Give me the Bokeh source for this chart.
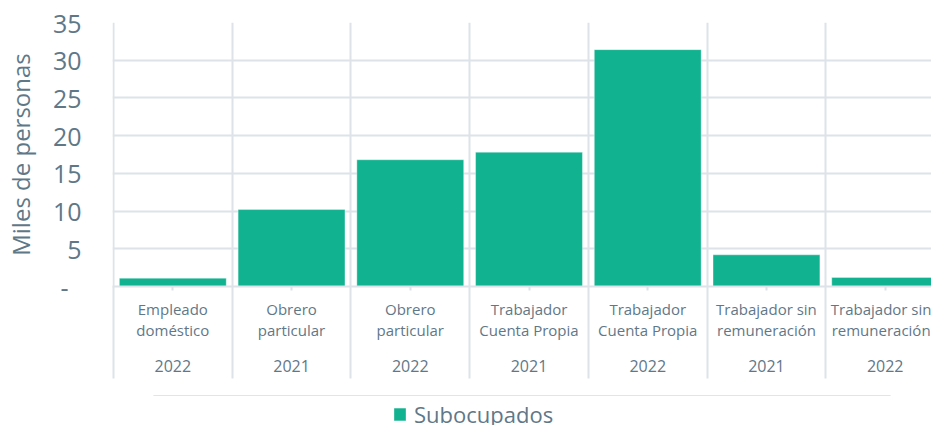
from bokeh.plotting import figure
from bokeh.layouts import column
from bokeh.models import Range1d, FixedTicker, LinearAxis, Legend, LegendItem, Grid, ColumnDataSource
from bokeh.core.properties import value
from bokeh.embed import file_html
from bokeh.resources import INLINE

categories = ["Empleado\ndoméstico", "Obrero\nparticular", "Obrero\nparticular",
              "Trabajador\nCuenta Propia", "Trabajador\nCuenta Propia",
              "Trabajador sin\nremuneración", "Trabajador sin\nremuneración"]
years = ["2022", "2021", "2022", "2021", "2022", "2021", "2022"]
subocupados = [1.1, 10.2, 16.8, 17.8, 31.4, 4.2, 1.2]
y_ticks = [0, 5, 10, 15, 20, 25, 30, 35]
series_name = "Subocupados"
y_title = "Miles de personas"

TEXT = "#5f7888"
GRID = "#dde3e8"
BAR = "#11b28f"
FONT = "Open Sans"

n = len(categories)
centers = [i + 0.5 for i in range(n)]
bounds = list(range(n + 1))

p = figure(width=931, height=395, output_backend="svg", toolbar_location=None,
           x_range=Range1d(-0.008, 6.89), y_range=Range1d(0, 35),
           x_axis_type=None, y_axis_type=None)
p.min_border_left = 112
p.min_border_top = 22
p.min_border_right = 0
p.min_border_bottom = 109
p.outline_line_color = None
p.background_fill_color = "white"

p.add_layout(Grid(dimension=0, ticker=FixedTicker(ticks=bounds), grid_line_color=GRID, grid_line_width=2))
p.add_layout(Grid(dimension=1, ticker=FixedTicker(ticks=y_ticks), grid_line_color=GRID, grid_line_width=2))

bar_style = dict(fill_color=BAR, line_color="#ffffff", line_alpha=0.35, line_width=1)
src = ColumnDataSource(dict(x=centers, top=subocupados))
p.vbar(x="x", top="top", width=0.9, source=src, **bar_style)

yaxis = LinearAxis(ticker=FixedTicker(ticks=y_ticks),
                   major_label_overrides={0: "-\u00a0\u00a0"},
                   axis_label=y_title,
                   axis_line_color=None, major_tick_line_color=None, minor_tick_line_color=None,
                   major_tick_out=0, major_tick_in=0, major_label_standoff=31,
                   axis_label_standoff=13,
                   major_label_text_font=FONT, major_label_text_font_size="25px",
                   major_label_text_color=TEXT,
                   axis_label_text_font=FONT, axis_label_text_font_size="24px",
                   axis_label_text_font_style="normal", axis_label_text_color=TEXT)
p.add_layout(yaxis, "left")

xaxis = LinearAxis(ticker=FixedTicker(ticks=centers),
                   major_label_overrides={c: lab for c, lab in zip(centers, categories)},
                   axis_line_color=GRID, axis_line_width=2,
                   major_tick_line_color=GRID, major_tick_line_width=2,
                   major_tick_out=4, major_tick_in=0,
                   minor_tick_line_color=None,
                   major_label_standoff=8,
                   major_label_text_font=FONT, major_label_text_font_size="15px",
                   major_label_text_color=TEXT, major_label_text_line_height=1.07)
p.add_layout(xaxis, "below")

xaxis2 = LinearAxis(ticker=FixedTicker(ticks=centers),
                    major_label_overrides={c: y for c, y in zip(centers, years)},
                    axis_line_color=None, major_tick_line_color=None, minor_tick_line_color=None,
                    major_tick_out=0, major_tick_in=0, major_label_standoff=17,
                    major_label_text_font=FONT, major_label_text_font_size="16px",
                    major_label_text_color=TEXT)
p.add_layout(xaxis2, "below")

sep_axis = LinearAxis(ticker=FixedTicker(ticks=bounds),
                      major_label_overrides={b: "" for b in bounds},
                      axis_line_color=None, minor_tick_line_color=None,
                      major_tick_line_color=GRID, major_tick_line_width=2,
                      major_tick_out=4, major_tick_in=88, major_label_standoff=5,
                      major_label_text_font_size="1px")
p.add_layout(sep_axis, "below")

# legend strip
p2 = figure(width=931, height=30, output_backend="svg", toolbar_location=None,
            x_range=Range1d(0, 1), y_range=Range1d(-2, -1),
            x_axis_type=None, y_axis_type=None)
p2.min_border_left = 0
p2.min_border_right = 0
p2.min_border_top = 0
p2.min_border_bottom = 0
p2.outline_line_color = None
p2.xgrid.visible = False
p2.ygrid.visible = False
r2 = p2.vbar(x="x", top="top", width=0.9, source=src, **bar_style)

legend = Legend(items=[LegendItem(label=value(series_name), renderers=[r2])],
                location=(280, -4), orientation="horizontal",
                border_line_color=None, background_fill_alpha=0,
                glyph_width=15, glyph_height=16, label_standoff=7,
                label_text_font=FONT, label_text_font_size="22px", label_text_color=TEXT,
                padding=0, margin=0, spacing=0)
p2.add_layout(legend, "center")

open("out.html", "w").write(file_html(column(p, p2, spacing=0), INLINE))
